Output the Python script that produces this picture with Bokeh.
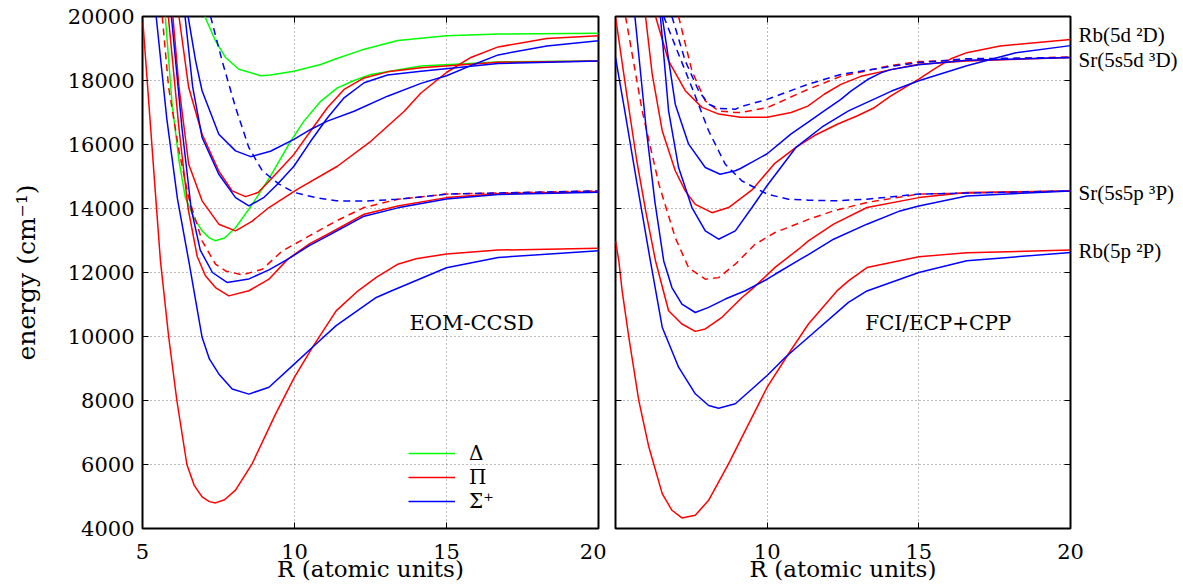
from bokeh.plotting import figure
from bokeh.layouts import row
from bokeh.models import FixedTicker, LinearAxis, Range1d, Label, Legend, LegendItem
from bokeh.embed import file_html
from bokeh.resources import INLINE

# ---------------- data (R in atomic units, energy in cm^-1) ----------------
x_ticks = [5, 10, 15, 20]
x_ticks_right_panel = [10, 15, 20]
y_ticks = [4000, 6000, 8000, 10000, 12000, 14000, 16000, 18000, 20000]

# EOM-CCSD panel
eom_d1_r = [7.05, 7.4, 7.73, 8.17, 8.89, 9.21, 9.98, 10.86, 11.37, 12.2, 13.4, 15.0, 16.7, 20.0]
eom_d1_e = [20000, 19240, 18720, 18350, 18150, 18170, 18290, 18500, 18680, 18950, 19250, 19400, 19450, 19480]
eom_d2_r = [5.75, 5.97, 6.2, 6.41, 6.7, 6.96, 7.2, 7.4, 7.7, 8.06, 8.61, 9.21, 9.87, 10.31, 10.86, 11.41, 11.96, 12.51, 14.16, 16.7, 20.0]
eom_d2_e = [20000, 17300, 15500, 14340, 13700, 13300, 13080, 12990, 13080, 13400, 14130, 15010, 16100, 16730, 17350, 17770, 18000, 18190, 18450, 18580, 18610]

eom_p1_r = [5.0, 5.2, 5.4, 5.59, 5.86, 6.13, 6.46, 6.7, 6.96, 7.2, 7.4, 7.7, 8.06, 8.61, 9.38, 10.0, 10.59, 11.37, 12.08, 12.69, 13.4, 14.0, 15.0, 16.7, 20.0]
eom_p1_e = [20000, 17400, 14800, 12370, 10000, 8000, 6000, 5350, 4990, 4840, 4800, 4900, 5200, 6030, 7580, 8730, 9660, 10800, 11420, 11850, 12260, 12430, 12580, 12700, 12760]
eom_p2_r = [5.85, 6.2, 6.5, 6.8, 7.07, 7.4, 7.84, 8.5, 9.16, 9.77, 10.5, 11.2, 12.29, 13.4, 15.0, 16.7, 20.0]
eom_p2_e = [20000, 16500, 14000, 12500, 11900, 11530, 11270, 11430, 11790, 12410, 12900, 13250, 13820, 14080, 14340, 14460, 14520]
eom_p3_r = [6.0, 6.2, 6.52, 6.96, 7.51, 8.06, 8.6, 9.16, 10.09, 11.41, 12.51, 13.61, 14.16, 15.0, 15.8, 16.7, 18.3, 20.0]
eom_p3_e = [20000, 17800, 15380, 14240, 13510, 13300, 13600, 14030, 14600, 15320, 16100, 17040, 17610, 18250, 18720, 19050, 19310, 19400]
eom_p4_r = [6.2, 6.52, 6.96, 7.51, 7.95, 8.39, 8.8, 9.21, 9.98, 10.53, 11.08, 11.63, 12.29, 13.06, 14.16, 16.7, 20.0]
eom_p4_e = [20000, 17780, 16320, 15170, 14550, 14370, 14500, 14900, 15690, 16420, 17150, 17720, 18080, 18270, 18400, 18570, 18610]
eom_pd_r = [5.65, 5.86, 6.2, 6.52, 6.96, 7.4, 7.73, 8.28, 8.94, 9.6, 10.5, 11.37, 12.29, 13.4, 15.0, 20.0]
eom_pd_e = [20000, 17780, 15800, 14340, 12990, 12260, 12050, 11925, 12100, 12675, 13150, 13610, 14030, 14290, 14450, 14550]

eom_s1_r = [5.45, 5.8, 6.15, 6.52, 6.96, 7.2, 7.51, 7.95, 8.5, 9.16, 10.0, 10.59, 11.37, 12.69, 13.18, 15.0, 16.7, 20.0]
eom_s1_e = [20000, 16800, 14300, 12370, 9975, 9300, 8830, 8360, 8200, 8415, 9143, 9662, 10340, 11220, 11420, 12150, 12470, 12680]
eom_s2_r = [5.95, 6.3, 6.6, 6.9, 7.3, 7.78, 8.5, 9.16, 9.77, 10.5, 11.2, 12.29, 13.4, 15.0, 16.7, 20.0]
eom_s2_e = [20000, 16500, 14000, 12700, 12000, 11690, 11800, 12080, 12410, 12850, 13200, 13760, 14020, 14300, 14440, 14510]
eom_s3_r = [6.4, 6.65, 6.96, 7.51, 8.06, 8.5, 9.0, 9.43, 9.98, 10.53, 11.08, 11.63, 12.29, 13.06, 14.16, 16.7, 20.0]
eom_s3_e = [20000, 17800, 16220, 15070, 14340, 14080, 14350, 14750, 15320, 16100, 16830, 17460, 17930, 18170, 18290, 18530, 18610]
eom_s4_r = [6.5, 6.75, 6.96, 7.51, 8.06, 8.56, 9.21, 9.98, 10.53, 11.08, 11.96, 13.06, 14.16, 15.0, 15.92, 16.7, 18.3, 20.0]
eom_s4_e = [20000, 18600, 17680, 16320, 15800, 15620, 15790, 16160, 16470, 16730, 17040, 17510, 17910, 18150, 18510, 18800, 19080, 19240]
eom_sd_r = [7.24, 7.62, 8.06, 8.5, 8.94, 9.49, 10.0, 10.7, 11.37, 12.29, 13.4, 15.0, 20.0]
eom_sd_e = [20000, 18610, 17160, 15900, 15180, 14760, 14500, 14340, 14240, 14230, 14290, 14450, 14550]

# FCI/ECP+CPP panel
fci_p1_r = [5.0, 5.11, 5.22, 5.44, 5.77, 6.1, 6.54, 6.86, 7.19, 7.63, 8.07, 8.73, 9.39, 10.0, 10.7, 11.36, 12.3, 12.68, 13.29, 15.0, 16.58, 20.0]
fci_p1_e = [12990, 12360, 11420, 9975, 7990, 6545, 5090, 4570, 4330, 4415, 4880, 6026, 7270, 8415, 9454, 10390, 11424, 11740, 12154, 12490, 12620, 12700]
fci_p2_r = [5.0, 5.35, 5.7, 6.0, 6.32, 6.75, 7.19, 7.63, 7.96, 8.51, 9.17, 9.5, 10.26, 11.1, 11.36, 12.19, 13.29, 15.0, 16.58, 20.0]
fci_p2_e = [20000, 17700, 15500, 13900, 12360, 10805, 10390, 10160, 10235, 10600, 11220, 11480, 12160, 12780, 12990, 13510, 14030, 14340, 14500, 14550]
fci_p3_r = [5.99, 6.21, 6.54, 6.97, 7.3, 7.63, 8.18, 8.73, 9.5, 10.24, 10.96, 11.56, 12.33, 12.98, 13.53, 14.08, 15.0, 15.49, 16.04, 16.58, 17.68, 20.0]
fci_p3_e = [20000, 18200, 16430, 15180, 14550, 14130, 13870, 14030, 14580, 15400, 15920, 16280, 16640, 16900, 17150, 17520, 18040, 18350, 18670, 18870, 19080, 19280]
fci_p4_r = [6.32, 6.75, 7.3, 7.85, 8.4, 9.12, 10.0, 10.79, 11.34, 11.88, 12.43, 13.09, 14.08, 15.0, 16.58, 20.0]
fci_p4_e = [20000, 18610, 17680, 17160, 16950, 16850, 16850, 17000, 17200, 17570, 17880, 18130, 18340, 18510, 18610, 18720]
fci_pd1_r = [5.33, 5.88, 6.43, 6.97, 7.41, 7.96, 8.4, 8.95, 9.6, 10.26, 11.1, 11.36, 12.19, 13.29, 15.0, 20.0]
fci_pd1_e = [20000, 17050, 14760, 13090, 12150, 11790, 11840, 12260, 12880, 13250, 13560, 13660, 13925, 14190, 14450, 14550]
fci_pd2_r = [7.08, 7.52, 7.96, 8.4, 8.95, 9.12, 10.0, 11.34, 12.43, 14.08, 15.0, 20.0]
fci_pd2_e = [20000, 18300, 17360, 17050, 17000, 17000, 17150, 17720, 18130, 18470, 18590, 18740]

fci_s1_r = [5.0, 5.3, 5.7, 6.15, 6.54, 7.08, 7.63, 8.07, 8.4, 8.95, 9.5, 10.0, 10.6, 11.36, 12.68, 13.29, 15.0, 16.58, 20.0]
fci_s1_e = [18720, 17080, 14830, 12360, 10290, 9040, 8210, 7845, 7760, 7900, 8360, 8780, 9350, 9975, 11065, 11424, 12000, 12365, 12625]
fci_s2_r = [5.64, 6.0, 6.3, 6.59, 6.86, 7.19, 7.63, 8.07, 8.62, 9.28, 10.0, 10.26, 11.1, 11.36, 12.19, 13.29, 14.38, 15.0, 16.58, 20.0]
fci_s2_e = [20000, 16600, 14200, 12360, 11530, 11010, 10750, 10910, 11170, 11430, 11790, 11945, 12415, 12560, 13040, 13510, 13925, 14080, 14390, 14550]
fci_s3_r = [6.48, 6.75, 7.08, 7.52, 7.96, 8.4, 8.95, 9.5, 10.0, 10.96, 11.8, 12.68, 14.1, 15.0, 16.58, 18.2, 20.0]
fci_s3_e = [20000, 17050, 15280, 14030, 13300, 13040, 13300, 14030, 14720, 15920, 16540, 17050, 17670, 17990, 18460, 18870, 19090]
fci_s4_r = [6.54, 6.97, 7.41, 7.96, 8.45, 8.95, 9.12, 9.5, 10.0, 10.79, 11.34, 11.88, 12.43, 12.76, 13.31, 13.75, 14.08, 15.0, 16.58, 20.0]
fci_s4_e = [20000, 17260, 16010, 15280, 15070, 15180, 15250, 15450, 15710, 16330, 16690, 17050, 17410, 17670, 18030, 18240, 18340, 18490, 18630, 18720]
fci_sd1_r = [6.59, 6.97, 7.52, 8.07, 8.62, 9.17, 10.0, 10.7, 11.36, 12.19, 13.29, 15.0, 20.0]
fci_sd1_e = [20000, 19080, 17780, 16430, 15380, 14860, 14450, 14290, 14260, 14240, 14290, 14450, 14550]
fci_sd2_r = [6.86, 7.3, 7.74, 8.07, 8.4, 8.95, 9.12, 10.0, 11.34, 12.43, 14.08, 15.0, 16.58, 20.0]
fci_sd2_e = [20000, 18610, 17680, 17260, 17130, 17100, 17180, 17410, 17880, 18190, 18440, 18560, 18680, 18720]

legend_labels = ["Δ", "Π", "Σ⁺"]
asymptote_labels = ["Rb(5d ²D)", "Sr(5s5d ³D)", "Sr(5s5p ³P)", "Rb(5p ²P)"]
asymptote_e = [19420, 18650, 14480, 12670]
panel_titles = ["EOM-CCSD", "FCI/ECP+CPP"]

# ---------------- styling ----------------
FONT = "DejaVu Serif"
FONT_SMALL = "Liberation Serif"
GREEN, RED, BLUE = "#00ff00", "#ff0000", "#0000ff"
LW = 1.5
DASH = "7 5"
H = 588


def hidden_axis(ticker):
    return LinearAxis(ticker=ticker, major_tick_in=6, major_tick_out=0, minor_tick_line_color=None,
                      axis_line_color=None, major_label_text_font_size="1px",
                      major_label_text_color=None, major_label_standoff=0)


def make_fig(width, mbl, mbr, show_y):
    p = figure(width=width, height=H, x_range=Range1d(5, 20), y_range=Range1d(4000, 20000),
               output_backend="svg", toolbar_location=None,
               min_border_left=mbl, min_border_right=mbr, min_border_top=16, min_border_bottom=60,
               x_axis_location=None, y_axis_location=None)
    p.outline_line_color = "black"
    p.outline_line_width = 2
    p.background_fill_color = "white"
    p.border_fill_color = "white"
    xt = FixedTicker(ticks=x_ticks)
    yt = FixedTicker(ticks=y_ticks)
    p.xgrid.ticker = xt
    p.ygrid.ticker = yt
    p.grid.grid_line_color = "#555555"
    p.grid.grid_line_dash = "1 3"
    p.grid.grid_line_width = 1
    p.grid.grid_line_alpha = 0.8

    xlab_t = xt if show_y else FixedTicker(ticks=x_ticks_right_panel)
    xa = LinearAxis(ticker=xlab_t, major_tick_in=6, major_tick_out=0, minor_tick_line_color=None,
                    axis_line_color=None, major_label_text_font=FONT, major_label_text_font_size="21px",
                    major_label_text_color="black", major_label_standoff=15,
                    axis_label="R (atomic units)", axis_label_text_font=FONT,
                    axis_label_text_font_size="23px", axis_label_text_font_style="normal",
                    axis_label_text_color="black", axis_label_standoff=-6)
    p.add_layout(xa, "below")
    if show_y:
        ya = LinearAxis(ticker=yt, major_tick_in=6, major_tick_out=0, minor_tick_line_color=None,
                        axis_line_color=None, major_label_text_font=FONT, major_label_text_font_size="21px",
                        major_label_text_color="black", major_label_standoff=8,
                        axis_label="energy (cm⁻¹)", axis_label_text_font=FONT,
                        axis_label_text_font_size="25px", axis_label_text_font_style="normal",
                        axis_label_text_color="black", axis_label_standoff=24)
        p.add_layout(ya, "left")
    else:
        p.add_layout(hidden_axis(yt), "left")
    p.add_layout(hidden_axis(yt), "right")
    p.add_layout(hidden_axis(xt), "above")
    return p


def curve(p, r, e, color, dash=None):
    if dash:
        return p.line(r, e, line_color=color, line_width=LW, line_dash=dash)
    return p.line(r, e, line_color=color, line_width=LW)


# ---------------- left panel ----------------
p1 = make_fig(606, 142, 8, True)
rs_d = curve(p1, eom_d1_r, eom_d1_e, GREEN)
curve(p1, eom_d2_r, eom_d2_e, GREEN)
rs_p = curve(p1, eom_p1_r, eom_p1_e, RED)
curve(p1, eom_p2_r, eom_p2_e, RED)
curve(p1, eom_p3_r, eom_p3_e, RED)
curve(p1, eom_p4_r, eom_p4_e, RED)
curve(p1, eom_pd_r, eom_pd_e, RED, DASH)
rs_s = curve(p1, eom_s1_r, eom_s1_e, BLUE)
curve(p1, eom_s2_r, eom_s2_e, BLUE)
curve(p1, eom_s3_r, eom_s3_e, BLUE)
curve(p1, eom_s4_r, eom_s4_e, BLUE)
curve(p1, eom_sd_r, eom_sd_e, BLUE, DASH)

p1.add_layout(Label(x=13.78, y=10430, text=panel_titles[0], text_font=FONT, text_font_size="21px",
                    text_baseline="middle", text_color="black"))

legend = Legend(items=[LegendItem(label=legend_labels[0], renderers=[rs_d]),
                       LegendItem(label=legend_labels[1], renderers=[rs_p]),
                       LegendItem(label=legend_labels[2], renderers=[rs_s])],
                location=(266, 15), orientation="vertical",
                background_fill_alpha=0, border_line_color=None,
                padding=0, margin=0, spacing=0,
                glyph_width=47, glyph_height=20, label_height=20, label_standoff=14,
                label_text_font=FONT, label_text_font_size="20px", label_text_color="black")
p1.add_layout(legend)

# ---------------- right panel ----------------
p2 = make_fig(575, 9, 111, False)
curve(p2, fci_p1_r, fci_p1_e, RED)
curve(p2, fci_p2_r, fci_p2_e, RED)
curve(p2, fci_p3_r, fci_p3_e, RED)
curve(p2, fci_p4_r, fci_p4_e, RED)
curve(p2, fci_pd1_r, fci_pd1_e, RED, DASH)
curve(p2, fci_pd2_r, fci_pd2_e, RED, DASH)
curve(p2, fci_s1_r, fci_s1_e, BLUE)
curve(p2, fci_s2_r, fci_s2_e, BLUE)
curve(p2, fci_s3_r, fci_s3_e, BLUE)
curve(p2, fci_s4_r, fci_s4_e, BLUE)
curve(p2, fci_sd1_r, fci_sd1_e, BLUE, DASH)
curve(p2, fci_sd2_r, fci_sd2_e, BLUE, DASH)

p2.add_layout(Label(x=13.23, y=10430, text=panel_titles[1], text_font=FONT, text_font_size="20px",
                    text_baseline="middle", text_color="black"))

# asymptote labels as an extra right-hand axis (outside the frame)
asym_axis = LinearAxis(ticker=FixedTicker(ticks=asymptote_e),
                       major_label_overrides={e: t for e, t in zip(asymptote_e, asymptote_labels)},
                       major_tick_in=0, major_tick_out=0, minor_tick_line_color=None, axis_line_color=None,
                       major_label_text_font=FONT_SMALL, major_label_text_font_size="21px",
                       major_label_text_color="black", major_label_standoff=8)
p2.add_layout(asym_axis, "right")

layout = row(p1, p2, spacing=0)
open("out.html", "w").write(file_html(layout, INLINE))
